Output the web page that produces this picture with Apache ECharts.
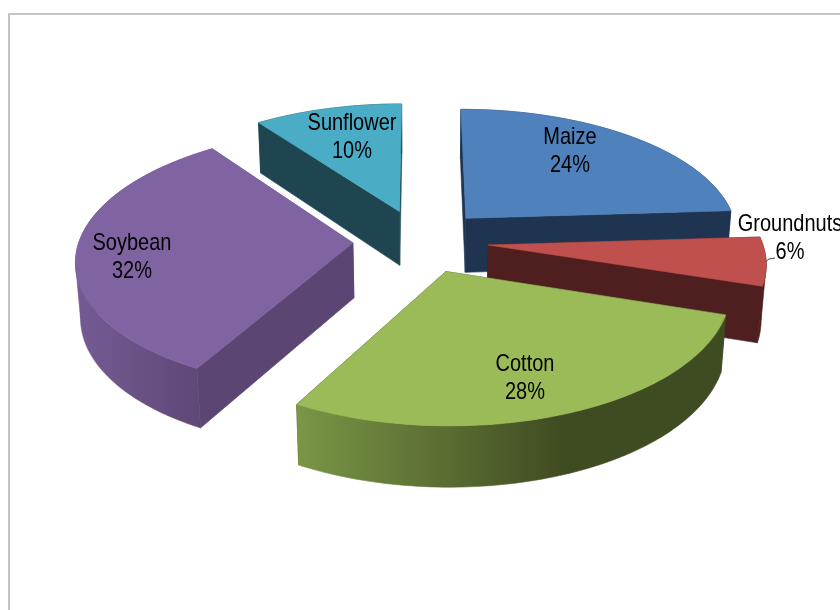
<!DOCTYPE html>
<html>
<head>
<meta charset="utf-8">
<title>Crop area shares</title>
<script src="https://cdn.jsdelivr.net/npm/echarts@6/dist/echarts.min.js"></script>
<style>
  html, body { margin: 0; padding: 0; background: #fff; }
  #chart { width: 840px; height: 610px; }
</style>
</head>
<body>
<div id="chart"></div>
<script>
// Share of cropped area, clockwise from twelve o'clock.
var categories = ['Maize', 'Groundnuts', 'Cotton', 'Soybean', 'Sunflower'];
var shares = [24, 6, 28, 32, 10];

// Colours per slice: top face, cut face, and curved wall ramp.
var topColors = ['#4F81BD', '#C0504D', '#9BBB59', '#8064A2', '#4BACC6'];
var cutColors = ['#1F3450', '#4E1F1E', '#3F4B21', '#5B4573', '#1F4650'];
var wallRamps = [
  ['#1F3450', '#1F3450'],
  ['#4E1F1E', '#4E1F1E'],
  ['#7A9646', '#3F4B21'],
  ['#745A93', '#5E4876'],
  ['#1F4650', '#1F4650']
];
var wallRampSpans = [[460, 740], [480, 770], [297, 565], [80, 200], [260, 405]];

// Back-to-front paint order, how far each slice is pulled out, and where
// each two-line label is centred.
var paintRank = [2, 3, 4, 1, 0];
var explodes = [0.25, 0.25, 0.25, 0.245, 0.25];
var labelCentres = [[570, 151], [790, 238], [525, 378], [132, 257], [352, 137]];

// Perspective camera over a unit-radius pie.
var CX = 420, CY = 241;
var FOCAL_X = 2245, FOCAL = 1987, FOCAL_Y = 1045;
var DIST = 8.2, TILT = 0.525;
var THICKNESS = 0.23;

// Labels use a tall, condensed setting of the face.
var LABEL_SIZE = 24, LABEL_SQUEEZE = 0.833;

function project(X, Y, drop) {
  var w = DIST - Y + drop * TILT;
  return [CX + FOCAL_X * X / w, CY + (FOCAL_Y * Y + FOCAL * drop) / w];
}

var total = shares.reduce(function (a, b) { return a + b; }, 0);
var cumulative = [];
shares.reduce(function (sum, v, i) { cumulative[i] = sum; return sum + v; }, 0);

// Index of the arc point that lies furthest along x in the given direction.
function extremeIndex(arc, dir) {
  var best = 0;
  arc.forEach(function (p, k) {
    if (p[0] * dir > arc[best][0] * dir) { best = k; }
  });
  return best;
}

function renderSlice(params, api) {
  var i = api.value(0);
  var start = cumulative[i] / total * Math.PI * 2;
  var end = start + api.value(1) / total * Math.PI * 2;
  var mid = (start + end) / 2;
  var ox = explodes[i] * Math.sin(mid), oy = -explodes[i] * Math.cos(mid);
  var steps = Math.max(4, Math.round((end - start) * 60));

  var topArc = [], lowArc = [];
  for (var s = 0; s <= steps; s++) {
    var a = start + (end - start) * s / steps;
    var X = ox + Math.sin(a), Y = oy - Math.cos(a);
    topArc.push(project(X, Y, 0));
    lowArc.push(project(X, Y, THICKNESS));
  }
  var apexTop = project(ox, oy, 0), apexLow = project(ox, oy, THICKNESS);
  var base = paintRank[i] * 10;

  function poly(points, fill, z) {
    return {
      type: 'polygon',
      z2: base + z,
      shape: { points: points },
      style: { fill: fill, stroke: fill, lineWidth: 0.6 }
    };
  }

  var ramp = wallRamps[i], span = wallRampSpans[i];
  var wallFill = new echarts.graphic.LinearGradient(
    span[0], 0, span[1], 0,
    [{ offset: 0, color: ramp[0] }, { offset: 1, color: ramp[1] }],
    true
  );

  var children = [
    poly([apexTop, topArc[0], lowArc[0], apexLow], cutColors[i], 0),
    poly([apexTop, topArc[steps], lowArc[steps], apexLow], cutColors[i], 1),
    poly(topArc.concat(lowArc.slice().reverse()), wallFill, 2)
  ];
  // The wall folds over at a silhouette inside the arc, where its two edges
  // cross. A triangle up to the apex closes that sliver; the top face covers
  // the part of the triangle that is not wall.
  [-1, 1].forEach(function (dir) {
    var k = extremeIndex(topArc, dir);
    if (k > 0 && k < steps) {
      children.push(poly([topArc[k], lowArc[k], apexTop], wallFill, 2));
    }
  });
  children.push(poly([apexTop].concat(topArc), topColors[i], 3));

  var centre = labelCentres[i];
  children.push({
    type: 'text',
    z2: 100,
    x: centre[0],
    y: centre[1],
    scaleX: LABEL_SQUEEZE,
    style: {
      text: categories[i] + '\n' + api.value(1) + '%',
      fill: '#000',
      font: LABEL_SIZE + 'px "Liberation Sans", Arial, sans-serif',
      lineHeight: 28,
      align: 'center',
      verticalAlign: 'middle'
    }
  });
  return { type: 'group', children: children };
}

var chart = echarts.init(document.getElementById('chart'), null, { renderer: 'canvas' });
chart.setOption({
  animation: false,
  backgroundColor: '#fff',
  // Frame of the chart area; its right and bottom run off the page.
  graphic: [
    {
      type: 'polyline',
      silent: true,
      shape: { points: [[9, 610], [9, 14], [840, 14]] },
      style: { stroke: '#b4b4b4', lineWidth: 1.6, fill: null }
    },
    {
      // Leader from the small slice to its label.
      type: 'polyline',
      silent: true,
      z: 10,
      shape: { points: [[765, 262], [769, 259], [775, 258]] },
      style: { stroke: '#444', lineWidth: 1, fill: null }
    }
  ],
  series: [{
    type: 'custom',
    coordinateSystem: 'none',
    silent: true,
    renderItem: renderSlice,
    data: shares.map(function (v, i) { return [i, v]; })
  }]
});
</script>
</body>
</html>
